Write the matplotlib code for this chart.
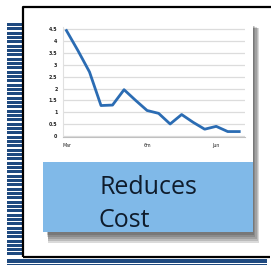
import numpy as np
import matplotlib
matplotlib.use('Agg')
import matplotlib.pyplot as plt
from matplotlib.patches import Rectangle

# =============================================================================
# data
# =============================================================================
cost = [4.45, 3.6, 2.7, 1.28, 1.3, 1.95, 1.5, 1.07, 0.95, 0.5, 0.9, 0.57, 0.28, 0.4, 0.18, 0.18]
y_ticks = [0, 0.5, 1, 1.5, 2, 2.5, 3, 3.5, 4, 4.5]
y_labels = ['0', '0.5', '1', '1.5', '2', '2.5', '3', '3.5', '4', '4.5']
x_ticks = [0, 7, 13]
x_labels = ['Mar', '6m', 'Jun']
caption = ['Reduces', 'Cost']

W, H = 271, 265
navy = '#1f4a80'
box_blue = '#80b9e8'
line_blue = '#2b6cb3'

fig = plt.figure(figsize=(W / 100, H / 100), dpi=100, facecolor='white')
bg = fig.add_axes([0, 0, 1, 1])
bg.set_xlim(0, W)
bg.set_ylim(H, 0)
bg.axis('off')

# striped band on the left
y = 23
while y < 256:
    bg.add_patch(Rectangle((7, y), 16, 3, color=navy, lw=0))
    y += 4.33
# bottom bands
bg.add_patch(Rectangle((7, 259), 260, 4, color=navy, lw=0))
bg.add_patch(Rectangle((7, 264), 260, 1, color=navy, lw=0))

# black frame (open on the right)
bg.plot([23, 23, 271], [257, 7, 7], color='black', lw=1.6, solid_capstyle='butt')
bg.plot([22.5, 270], [257, 257], color='black', lw=1.6, solid_capstyle='butt')

# soft drop shadow of the picture
for k in range(8):
    bg.add_patch(Rectangle((46 + k * 0.3, 24 + k * 0.6), 204 + k * 1.0, 204 + k * 1.6,
                           color='#1a1a1a', alpha=0.16, lw=0))
bg.add_patch(Rectangle((43, 22), 210, 210, color='white', lw=0))
bg.add_patch(Rectangle((43, 162), 210, 70, color=box_blue, lw=0))

bg.text(99, 194, caption[0], fontsize=18, color='#0f1c2c', family='Open Sans',
        va='baseline', ha='left')
bg.text(99, 227, caption[1], fontsize=18, color='#0f1c2c', family='Open Sans',
        va='baseline', ha='left')

# =============================================================================
# line chart
# =============================================================================
ax = fig.add_axes([63 / W, 1 - 137 / H, (245 - 63) / W, (137 - 27) / H])
ax.set_facecolor('none')
x = np.arange(len(cost))
ax.plot(x, cost, color=line_blue, lw=2.0, solid_joinstyle='round')
ax.set_xlim(-0.3, len(cost) - 0.5)
ax.set_ylim(-0.05, 4.6)
ax.set_yticks(y_ticks)
ax.set_yticklabels(y_labels)
ax.set_xticks(x_ticks)
ax.set_xticklabels(x_labels)
ax.tick_params(length=0, labelsize=3.4, labelcolor='#222222', pad=4)
for t in ax.get_xticklabels() + ax.get_yticklabels():
    t.set_fontweight('bold')
ax.grid(axis='y', color='#dcdcdc', lw=0.9)
for s in ['top', 'right']:
    ax.spines[s].set_visible(False)
ax.spines['left'].set_color('#e0e0e0')
ax.spines['bottom'].set_color('#c0c0c0')
ax.spines['bottom'].set_position(('data', -0.05))

fig.savefig('out.png', dpi=100)
